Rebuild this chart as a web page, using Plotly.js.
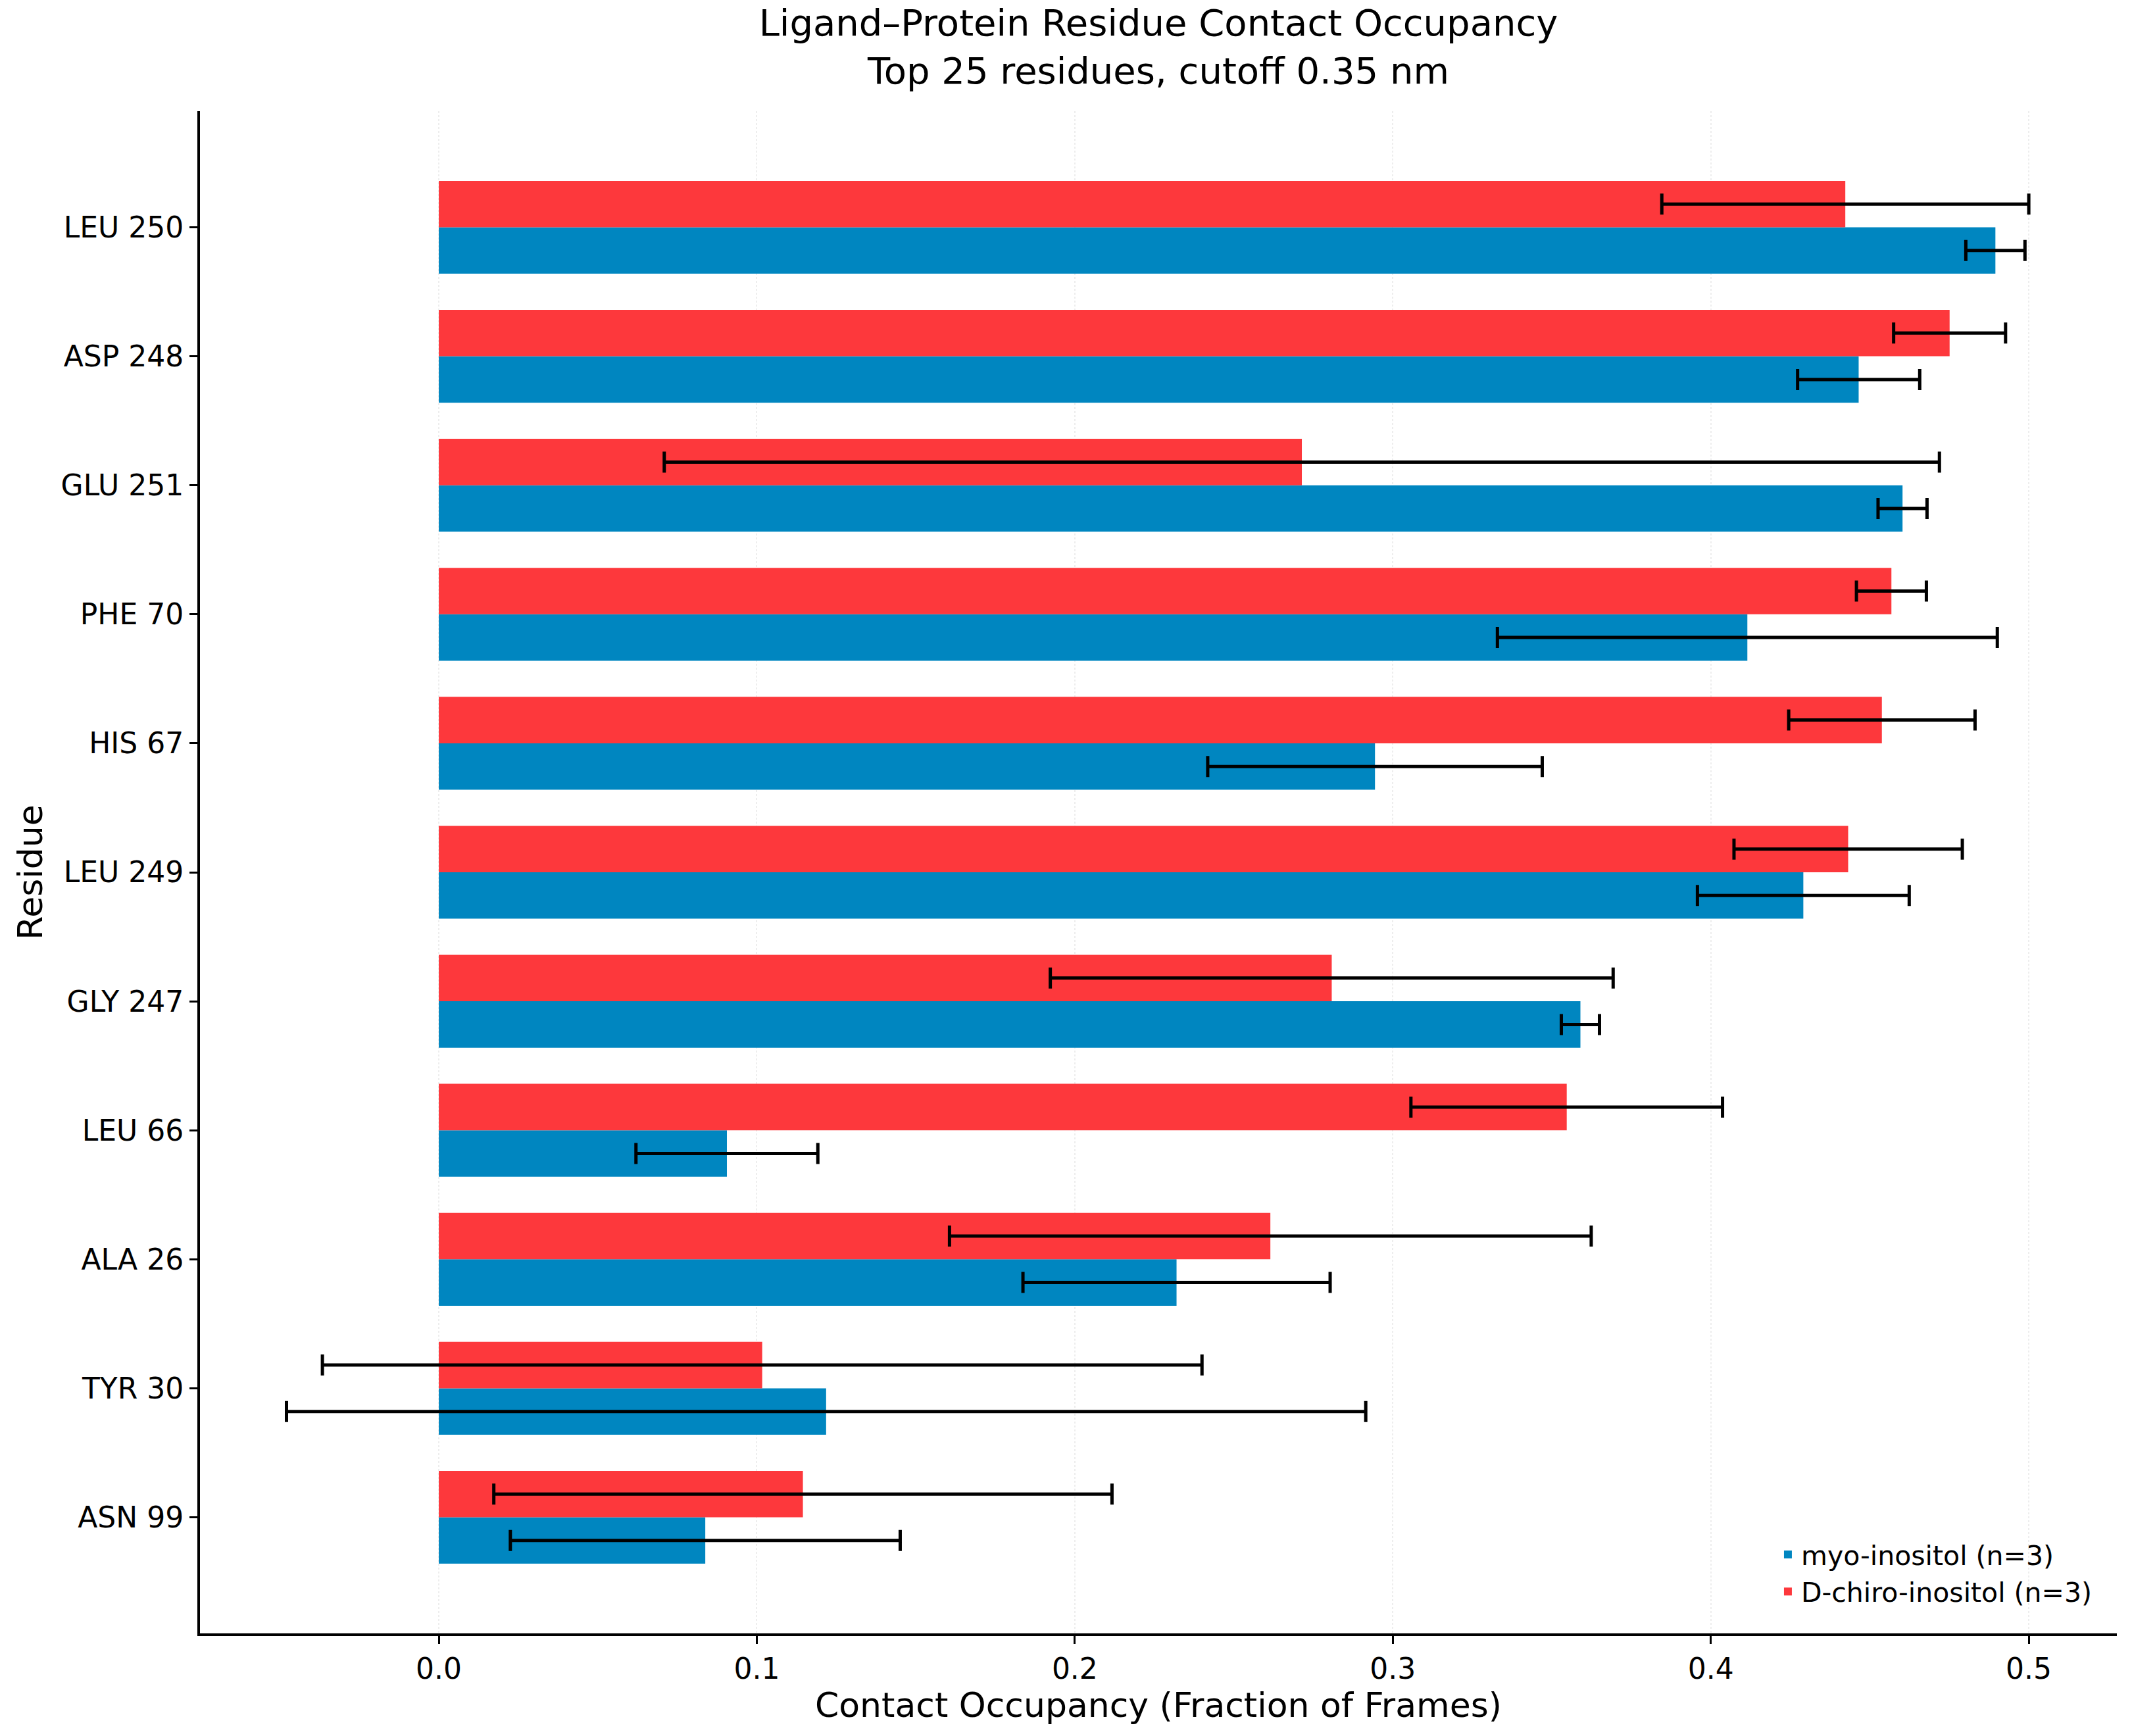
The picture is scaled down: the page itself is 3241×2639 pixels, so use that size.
<!DOCTYPE html>
<html>
<head>
<meta charset="utf-8">
<script src="https://cdn.plot.ly/plotly-3.0.1.min.js"></script>
<style>
  html, body { margin: 0; padding: 0; background: #fff; }
  #chart { width: 3241px; height: 2639px; }
</style>
</head>
<body>
<div id="chart"></div>
<script>
// residues, top to bottom
const residues = ['LEU 250', 'ASP 248', 'GLU 251', 'PHE 70', 'HIS 67', 'LEU 249',
                  'GLY 247', 'LEU 66', 'ALA 26', 'TYR 30', 'ASN 99']

// myo-inositol mean occupancy and error
const myoMean = [0.4895, 0.4465, 0.4603, 0.4115, 0.2944, 0.4291, 0.3590, 0.0906, 0.2320, 0.1218, 0.0838]
const myoErr  = [0.0093, 0.0192, 0.0077, 0.0786, 0.0526, 0.0333, 0.0060, 0.0286, 0.0483, 0.1697, 0.0613]

// D-chiro-inositol mean occupancy and error
const chiroMean = [0.4423, 0.4751, 0.2714, 0.4568, 0.4538, 0.4432, 0.2808, 0.3547, 0.2615, 0.1017, 0.1145]
const chiroErr  = [0.0577, 0.0176, 0.2005, 0.0110, 0.0293, 0.0359, 0.0885, 0.0490, 0.1009, 0.1383, 0.0972]

const xTicks = [0, 0.1, 0.2, 0.3, 0.4, 0.5]
const xTickText = ['0.0', '0.1', '0.2', '0.3', '0.4', '0.5']

const barH = 0.36

let myo = {
  type: 'bar',
  orientation: 'h',
  name: 'myo-inositol (n=3)',
  y: residues,
  x: myoMean,
  offset: 0,
  width: barH,
  marker: { color: '#0086c0', line: { width: 0 } },
  error_x: { type: 'data', array: myoErr, visible: true, color: '#000', thickness: 5, width: 16 }
}

let chiro = {
  type: 'bar',
  orientation: 'h',
  name: 'D-chiro-inositol (n=3)',
  y: residues,
  x: chiroMean,
  offset: -barH,
  width: barH,
  marker: { color: '#fd383c', line: { width: 0 } },
  error_x: { type: 'data', array: chiroErr, visible: true, color: '#000', thickness: 5, width: 16 }
}

let layout = {
  width: 3241,
  height: 2639,
  barmode: 'overlay',
  paper_bgcolor: '#fff',
  plot_bgcolor: '#fff',
  font: { family: 'DejaVu Sans', size: 44, color: '#000' },
  margin: { l: 304, r: 23, t: 169, b: 156 },
  title: {
    text: 'Ligand–Protein Residue Contact Occupancy<br>Top 25 residues, cutoff 0.35 nm',
    x: 0.5, xref: 'paper', xanchor: 'center',
    y: 0.9795, yref: 'container', yanchor: 'top',
    font: { size: 56 }
  },
  xaxis: {
    range: [-0.0751, 0.5277],
    tickvals: xTicks,
    ticktext: xTickText,
    ticks: 'outside', ticklen: 12, tickwidth: 3, tickcolor: '#000',
    showline: true, linewidth: 4, linecolor: '#000',
    showgrid: true, gridcolor: 'rgba(0,0,0,0.07)', gridwidth: 2, griddash: 'dot',
    zeroline: false,
    automargin: false,
    tickfont: { size: 44 },
    title: { text: 'Contact Occupancy (Fraction of Frames)', font: { size: 52 }, standoff: 12 }
  },
  yaxis: {
    type: 'category',
    categoryorder: 'array',
    categoryarray: residues,
    range: [10.9, -0.9],
    ticks: 'outside', ticklen: 12, tickwidth: 3, tickcolor: '#000',
    showline: true, linewidth: 4, linecolor: '#000',
    showgrid: false, zeroline: false,
    automargin: false,
    tickfont: { size: 44 },
    title: { text: 'Residue', font: { size: 52 }, standoff: 12 }
  },
  legend: {
    x: 0.989, xanchor: 'right', y: 0.013, yanchor: 'bottom',
    bgcolor: 'rgba(255,255,255,0)',
    font: { size: 41 },
    traceorder: 'normal'
  },
  showlegend: true
}

Plotly.newPlot('chart', [myo, chiro], layout, { displayModeBar: false, staticPlot: true })
</script>
</body>
</html>
